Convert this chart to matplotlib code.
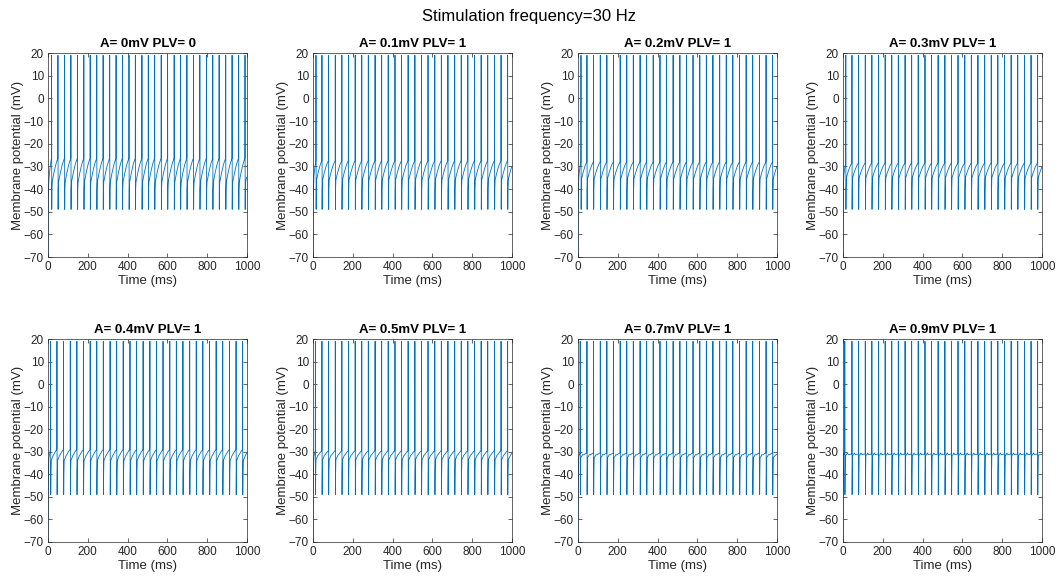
import numpy as np
import matplotlib.pyplot as plt

plt.rcParams['font.family'] = ['Liberation Sans', 'DejaVu Sans']

# panel info
amps = ['0', '0.1', '0.2', '0.3', '0.4', '0.5', '0.7', '0.9']
plv = [0, 1, 1, 1, 1, 1, 1, 1]

# spike times (ms)
spikes_free = [18, 50, 83, 115, 148, 180, 212, 245, 277, 310, 342, 374, 407, 439, 472, 504,
               536, 569, 601, 634, 666, 698, 731, 763, 796, 828, 860, 893, 925, 958, 990]
spikes_locked = [45, 78, 112, 145, 178, 212, 245, 278, 312, 345, 378, 412, 445, 478, 512,
                 545, 578, 612, 645, 678, 712, 745, 778, 812, 845, 878, 912, 945, 978]
first_spike = [18, 15, 15, 14, 13, 12, 11, 9]

# inter-spike levels per panel (mV)
v_low = [-37, -36, -35.5, -35, -34, -33.5, -32.5, -31.5]
v_high = [-26.5, -27.5, -28, -28.5, -29, -29.5, -30.5, -31]
v_bump = [0, 0, 0, 0, 0.2, 0.3, 0.5, 0.8]
v_peak = 19
v_ahp = -49
v_rest = -70

# shape of the slow rise between spikes (fraction of interval, weight low->high)
rise_frac = [0.0, 0.15, 0.3, 0.45, 0.6, 0.75, 0.9, 1.0]
rise_w = [0.0, 0.2, 0.38, 0.55, 0.7, 0.83, 0.93, 1.0]

fig = plt.figure(figsize=(10.59, 5.81), dpi=100)
fig.suptitle('Stimulation frequency=30 Hz', fontsize=12, y=0.972, va='center')

col = '#0072BD'
lefts = [48, 313, 578, 843]
rows = [(53, 257), (339, 542)]

for k in range(8):
    r = k // 4
    c = k % 4
    top, bot = rows[r]
    ax = fig.add_axes([lefts[c] / 1059, 1 - bot / 581, 199 / 1059, (bot - top) / 581])

    if k == 0:
        sp = spikes_free
    else:
        sp = [first_spike[k]] + spikes_locked

    # build the trace knots
    t = [0, 0.8, 3]
    v = [v_rest, -45, v_low[k] - 2]
    prev = 3
    for i, s in enumerate(sp):
        # slow rise up to threshold
        span = (s - 0.6) - prev
        for f, w in zip(rise_frac[1:], rise_w[1:]):
            t.append(prev + f * span)
            b = v_bump[k] if f == 0.3 else 0
            v.append(v_low[k] + w * (v_high[k] - v_low[k]) + b)
        t += [s, s + 0.8, s + 1.5, s + 3]
        v += [v_peak, v_ahp, -40, v_low[k]]
        prev = s + 3
    # tail after last spike
    nxt = sp[-1] - sp[-2]
    for f, w in zip(rise_frac[1:], rise_w[1:]):
        tt = prev + f * (nxt - 3.6)
        if tt > 1000:
            break
        t.append(tt)
        v.append(v_low[k] + w * (v_high[k] - v_low[k]))

    ax.plot(t, v, color=col, lw=0.6)
    ax.set_xlim(0, 1000)
    ax.set_ylim(-70, 20)
    ax.set_xticks(range(0, 1001, 200))
    ax.set_yticks(range(-70, 21, 10))
    ax.tick_params(direction='in', top=True, right=True, length=3, width=0.5,
                   labelsize=8.5, colors='0.15', pad=3)
    for s in ax.spines.values():
        s.set_linewidth(0.5)
        s.set_color('0.15')
    ax.set_xlabel('Time (ms)', fontsize=9.5, color='0.15', labelpad=1)
    ax.set_ylabel('Membrane potential (mV)', fontsize=9.5, color='0.15', labelpad=0)
    ax.set_title('A= ' + amps[k] + 'mV PLV= ' + str(plv[k]), fontsize=9.5,
                 fontweight='bold', pad=4)

plt.savefig('out.png', dpi=100)
